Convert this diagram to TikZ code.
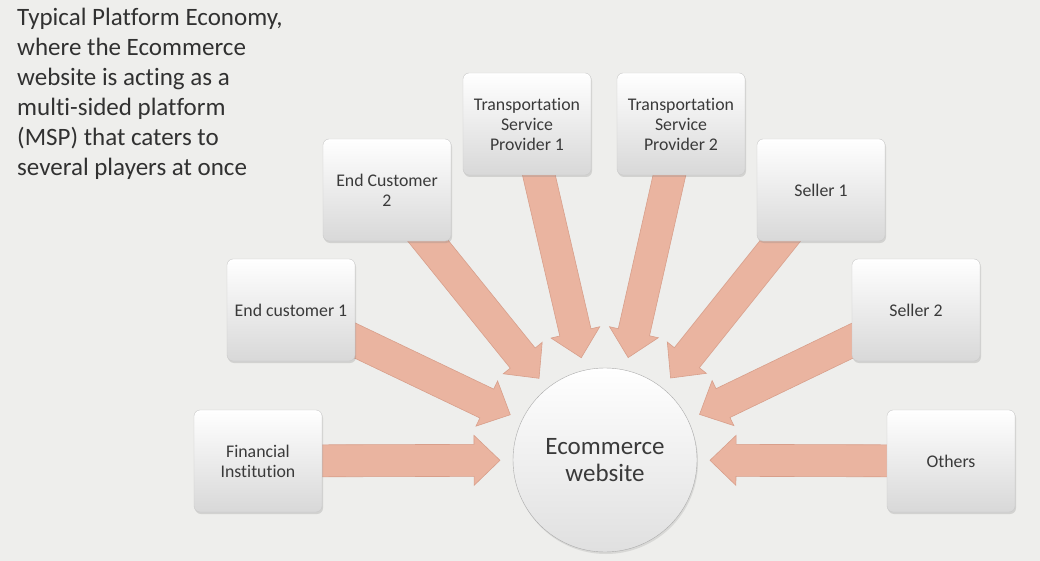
\documentclass[tikz,border=0pt]{standalone}
\usepackage{fontspec}
\setmainfont[Ligatures={NoCommon}]{Carlito}
\usetikzlibrary{calc,shadows}
\definecolor{slide}{HTML}{EEEEEC}
\definecolor{ink}{HTML}{3A3A3A}
\definecolor{rim}{HTML}{CACACA}
\definecolor{shade}{HTML}{D8D8D8}
\definecolor{salmon}{HTML}{EAB4A0}
\definecolor{salmonrim}{HTML}{D89F8B}
\newcommand{\flowhalf}{16pt}
\newcommand{\headhalf}{25pt}
\newcommand{\headlen}{26pt}
\pgfdeclarelayer{back}
\pgfdeclarelayer{flows}
\pgfsetlayers{back,flows,main}
\tikzset{party/.style={draw=rim,top color=white,bottom color=shade,rounded corners=6pt,
 minimum width=128pt,minimum height=102pt,align=center,text=ink,inner sep=2pt,
 font=\fontsize{17.8}{20}\selectfont,drop shadow={opacity=.25,shadow xshift=1pt,shadow yshift=-2pt}},
 hub/.style={circle,draw=rim!85!black,top color=white,bottom color=shade!80!white,minimum size=184pt,
 inner sep=0pt,align=center,text=ink,font=\fontsize{25}{27}\selectfont,
 drop shadow={opacity=.2,shadow xshift=1pt,shadow yshift=-2pt}},
 flow/.style={draw=salmonrim,fill=salmon,line width=.6pt,line join=miter,
 to path={($(\tikztostart)!\flowhalf!90:(\tikztotarget)$)
  -- ($($(\tikztotarget)!\headlen!(\tikztostart)$)!\flowhalf!90:(\tikztotarget)$)
  -- ($($(\tikztotarget)!\headlen!(\tikztostart)$)!\headhalf!90:(\tikztotarget)$)
  -- (\tikztotarget)
  -- ($($(\tikztotarget)!\headlen!(\tikztostart)$)!\headhalf!-90:(\tikztotarget)$)
  -- ($($(\tikztotarget)!\headlen!(\tikztostart)$)!\flowhalf!-90:(\tikztotarget)$)
  -- ($(\tikztostart)!\flowhalf!-90:(\tikztotarget)$) -- cycle}}}

\begin{document}
\begin{tikzpicture}[x=1pt,y=-1pt]
\begin{pgfonlayer}{back}
\fill[slide] (0,0) rectangle (1040,561);
\end{pgfonlayer}
\useasboundingbox (0,0) rectangle (1040,561);

\node[anchor=north west,inner sep=0pt,align=left,text=ink!85!black,
 font=\fontsize{25}{30}\selectfont] (caption) at (17,8)
 {Typical Platform Economy,\\where the Ecommerce\\website is acting as a\\multi-sided platform\\(MSP) that caters to\\several players at once};

\node[hub] (web) at (605,460) {Ecommerce\\website};

\node[party] (fin) at (258,461) {Financial\\Institution};
\node[party] (ec1) at (291,310) {End customer 1};
\node[party] (ec2) at (387,190) {End Customer\\2};
\node[party] (tsp1) at (527,124) {Transportation\\Service\\Provider 1};
\node[party] (tsp2) at (681,124) {Transportation\\Service\\Provider 2};
\node[party] (sel1) at (821,190) {Seller 1};
\node[party] (sel2) at (916,310) {Seller 2};
\node[party] (oth) at (951,461) {Others};

% block arrows into the hub
\begin{pgfonlayer}{flows}
\foreach \b in {fin,ec1,ec2,tsp1,tsp2,sel1,sel2,oth}{
 \coordinate (\b-tip) at ($(web.center)!105pt!(\b.center)$);
 \draw[flow] (\b.center) to (\b-tip);
}
\end{pgfonlayer}
\end{tikzpicture}
\end{document}
